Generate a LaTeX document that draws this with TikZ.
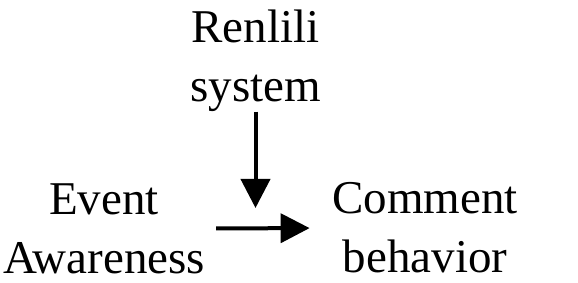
\documentclass[tikz,border=0pt]{standalone}
\usepackage{fontspec}
\setmainfont{Liberation Serif}
\usepackage{tikz}
\usetikzlibrary{positioning, arrows.meta}

\begin{document}
\begin{tikzpicture}[x=1pt, y=1pt,
  var/.style={align=center, inner sep=0pt, font=\fontsize{47}{59}\selectfont},
  link/.style={line width=4pt, -{Triangle[length=29pt, width=29pt]}}]
\useasboundingbox (0,0) rectangle (578,283);
\node[var] (renlili) at (255.5,222.4) {Renlili\\system};
\node[var] (event) at (104,54.5) {Event\\Awareness};
\node[var] (comment) at (425,55) {Comment\\behavior};
\coordinate (mod) at (255.5,75);
\draw[link] (renlili.south) -- (mod);
\draw[link, shorten <=11pt, shorten >=22.5pt] (event.east) -- (comment.west);
\end{tikzpicture}
\end{document}
